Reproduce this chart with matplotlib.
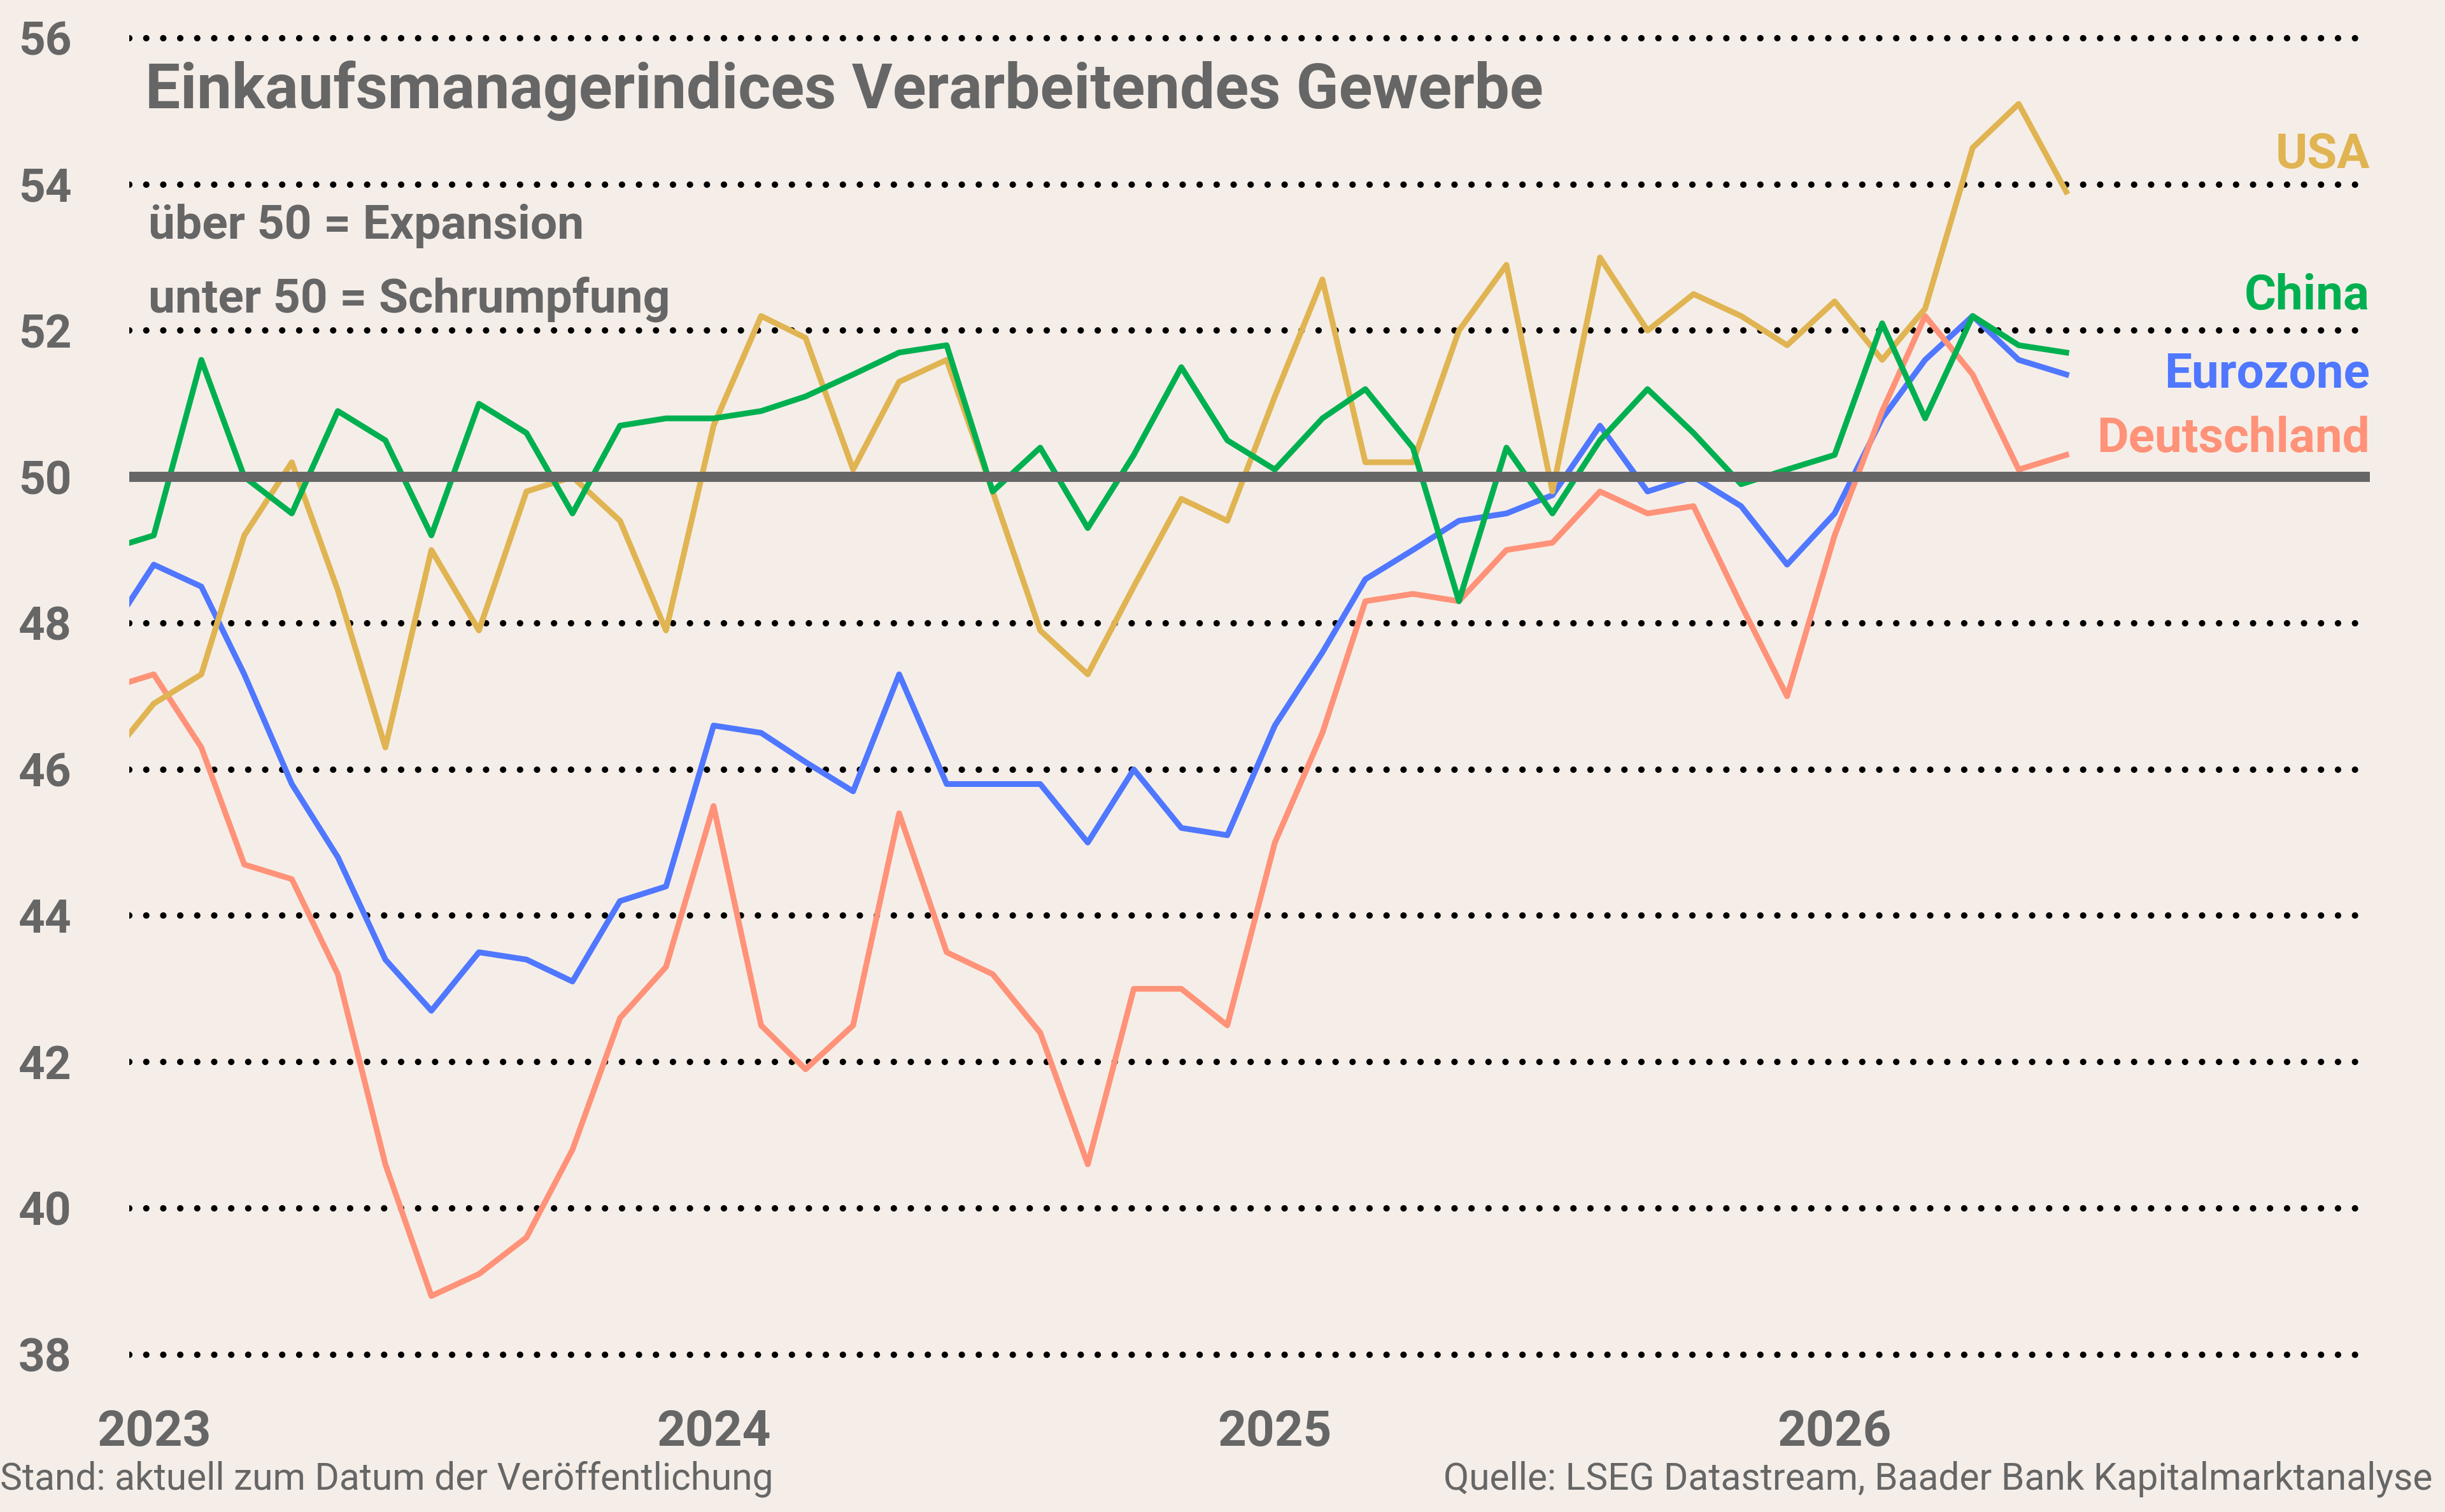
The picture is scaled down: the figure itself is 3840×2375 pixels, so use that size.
import pandas as pd
import matplotlib.pyplot as plt

# monthly values, Dec 2022 .. Jun 2026
months = pd.date_range('2022-12-01', '2026-06-01', freq='MS')

usa = [46.1, 46.9, 47.3, 49.2, 50.2, 48.45, 46.3, 49.0, 47.9, 49.8, 50.0, 49.4, 47.9,
       50.7, 52.2, 51.9, 50.1, 51.3, 51.6, 49.8, 47.9, 47.3, 48.5, 49.7, 49.4,
       51.1, 52.7, 50.2, 50.2, 52.0, 52.9, 49.8, 53.0, 52.0, 52.5, 52.2, 51.8,
       52.4, 51.6, 52.3, 54.5, 55.1, 53.9]
china = [49.0, 49.2, 51.6, 50.0, 49.5, 50.9, 50.5, 49.2, 51.0, 50.6, 49.5, 50.7, 50.8,
         50.8, 50.9, 51.1, 51.4, 51.7, 51.8, 49.8, 50.4, 49.3, 50.3, 51.5, 50.5,
         50.1, 50.8, 51.2, 50.4, 48.3, 50.4, 49.5, 50.5, 51.2, 50.6, 49.9, 50.1,
         50.3, 52.1, 50.8, 52.2, 51.8, 51.7]
eurozone = [47.8, 48.8, 48.5, 47.3, 45.8, 44.8, 43.4, 42.7, 43.5, 43.4, 43.1, 44.2, 44.4,
            46.6, 46.5, 46.1, 45.7, 47.3, 45.8, 45.8, 45.8, 45.0, 46.0, 45.2, 45.1,
            46.6, 47.6, 48.6, 49.0, 49.4, 49.5, 49.75, 50.7, 49.8, 50.0, 49.6, 48.8,
            49.5, 50.8, 51.6, 52.2, 51.6, 51.4]
deutschland = [47.1, 47.3, 46.3, 44.7, 44.5, 43.2, 40.6, 38.8, 39.1, 39.6, 40.8, 42.6, 43.3,
               45.5, 42.5, 41.9, 42.5, 45.4, 43.5, 43.2, 42.4, 40.6, 43.0, 43.0, 42.5,
               45.0, 46.5, 48.3, 48.4, 48.3, 49.0, 49.1, 49.8, 49.5, 49.6, 48.25, 47.0,
               49.2, 50.9, 52.2, 51.4, 50.1, 50.3]

years = ['2023', '2024', '2025', '2026']
yticks = list(range(38, 57, 2))

bg = '#F5EEE8'
grey = '#666666'
c_usa = '#E0B452'
c_china = '#00B050'
c_euro = '#4F77FF'
c_de = '#FF9278'

plt.rcParams['font.family'] = ['Roboto', 'DejaVu Sans']

fig = plt.figure(figsize=(15.36, 9.5), dpi=250)
fig.patch.set_facecolor(bg)
ax = fig.add_axes([203 / 3840, 0.080, (3722 - 203) / 3840, 0.919])
ax.set_facecolor(bg)

# dotted grid: round dots
for v in yticks:
    ax.axhline(v, color='black', lw=2.9, linestyle=(0, (0.01, 2.64)),
               dash_capstyle='round', zorder=1)

lw = 2.6
ax.plot(months, eurozone, color=c_euro, lw=lw, zorder=3)
ax.plot(months, deutschland, color=c_de, lw=lw, zorder=4)
ax.plot(months, usa, color=c_usa, lw=lw, zorder=5)
ax.plot(months, china, color=c_china, lw=lw, zorder=6)
ax.axhline(50, color=grey, lw=4.6, zorder=10, solid_capstyle='butt')

ax.set_xlim(pd.Timestamp('2022-12-16'), pd.Timestamp('2026-12-16'))
ax.set_ylim(37.5, 56.5)
ax.set_yticks(yticks)
ax.set_yticklabels([str(v) for v in yticks], fontsize=21, fontweight='bold', color=grey)
ax.set_xticks([pd.Timestamp(y + '-01-01') for y in years])
ax.set_xticklabels(years, fontsize=22.5, fontweight='bold', color=grey)
ax.tick_params(axis='y', length=0, pad=26)
ax.tick_params(axis='x', length=0, pad=8)
for s in ax.spines.values():
    s.set_visible(False)

# series labels at the right edge
right = pd.Timestamp('2026-12-16')
ax.text(right, 54.4, 'USA', color=c_usa, fontsize=22, fontweight='bold', ha='right', va='center')
ax.text(right, 52.47, 'China', color=c_china, fontsize=22, fontweight='bold', ha='right', va='center')
ax.text(right, 51.4, 'Eurozone', color=c_euro, fontsize=22, fontweight='bold', ha='right', va='center')
ax.text(right, 50.52, 'Deutschland', color=c_de, fontsize=22, fontweight='bold', ha='right', va='center')

fig.text(0.0594, 0.940, 'Einkaufsmanagerindices Verarbeitendes Gewerbe',
         fontsize=28.2, fontweight='bold', color=grey, va='center')
fig.text(0.0607, 0.8505, 'über 50 = Expansion', fontsize=21.6, fontweight='bold', color=grey, va='center')
fig.text(0.0607, 0.802, 'unter 50 = Schrumpfung', fontsize=21.6, fontweight='bold', color=grey, va='center')

fig.text(0.0, 0.022, 'Stand: aktuell zum Datum der Veröffentlichung',
         fontsize=16.9, color=grey, va='center', ha='left')
fig.text(0.995, 0.022, 'Quelle: LSEG Datastream, Baader Bank Kapitalmarktanalyse',
         fontsize=16.9, color=grey, va='center', ha='right')

fig.savefig('out.png', dpi=250, facecolor=bg)
